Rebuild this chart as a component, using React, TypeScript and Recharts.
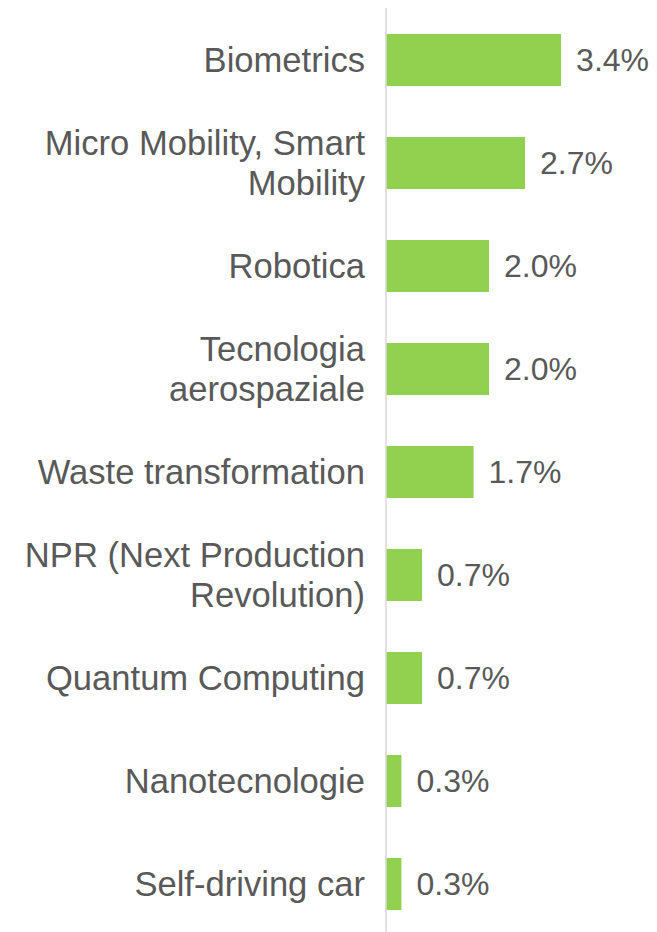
import { BarChart, Bar, XAxis, YAxis, LabelList } from "recharts";

const categories = [
  "Biometrics",
  "Micro Mobility, Smart Mobility",
  "Robotica",
  "Tecnologia aerospaziale",
  "Waste transformation",
  "NPR (Next Production Revolution)",
  "Quantum Computing",
  "Nanotecnologie",
  "Self-driving car",
];
const shares = [3.4, 2.7, 2.0, 2.0, 1.7, 0.7, 0.7, 0.3, 0.3];

const data = categories.map((name, i) => ({ name, value: shares[i] }));

const FONT = "'Liberation Sans', Arial, sans-serif";
const GREY = "#595959";
const TICK_SIZE = 34.6;
const WRAP = 350;

let ctx: CanvasRenderingContext2D | null = null;
function measure(s: string) {
  if (!ctx) ctx = document.createElement("canvas").getContext("2d");
  if (!ctx) return s.length * TICK_SIZE * 0.5;
  ctx.font = `${TICK_SIZE}px ${FONT}`;
  return ctx.measureText(s).width;
}

function wrap(label: string) {
  const lines: string[] = [];
  let cur = "";
  for (const w of label.split(" ")) {
    const next = cur ? cur + " " + w : w;
    if (cur && measure(next) > WRAP) {
      lines.push(cur);
      cur = w;
    } else cur = next;
  }
  if (cur) lines.push(cur);
  return lines;
}

function CategoryTick(props: any) {
  const { x, y, payload } = props;
  const lines = wrap(String(payload.value));
  const lh = 40;
  return (
    <text
      x={x}
      y={y}
      textAnchor="end"
      fill={GREY}
      fontSize={TICK_SIZE}
      fontFamily={FONT}
    >
      {lines.map((l, i) => (
        <tspan key={i} x={x} y={y + (i - (lines.length - 1) / 2) * lh} dy="0.35em">
          {l}
        </tspan>
      ))}
    </text>
  );
}

export default function App() {
  return (
    <div style={{ position: "absolute", left: 0, top: 0, background: "#fff" }}>
      <BarChart
        width={657}
        height={935}
        data={data}
        layout="vertical"
        margin={{ top: 8, right: 65, bottom: 0, left: 0 }}
        barSize={52}
      >
        <XAxis type="number" hide domain={[0, 4]} />
        <YAxis
          type="category"
          dataKey="name"
          width={386}
          tickSize={0}
          tickMargin={21}
          tickLine={false}
          axisLine={{ stroke: "#d9d9d9", strokeWidth: 1.5 }}
          tick={<CategoryTick />}
          interval={0}
        />
        <Bar dataKey="value" fill="#92d050" isAnimationActive={false}>
          <LabelList
            dataKey="value"
            position="right"
            offset={15}
            formatter={(v: any) => `${Number(v).toFixed(1)}%`}
            fill={GREY}
            fontSize={32}
            fontFamily={FONT}
          />
        </Bar>
      </BarChart>
    </div>
  );
}
